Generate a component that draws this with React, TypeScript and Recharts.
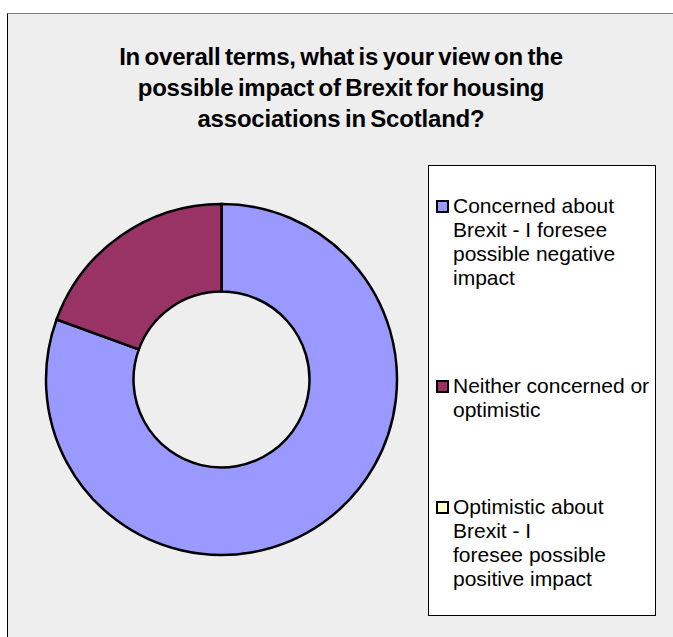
import React from "react";
import { PieChart, Pie, Cell, Legend } from "recharts";

const titleLines = [
  "In overall terms, what is your view on the",
  "possible impact of Brexit for housing",
  "associations in Scotland?",
];
const categories = [
  "Concerned about\nBrexit - I foresee\npossible negative\nimpact",
  "Neither concerned or\noptimistic",
  "Optimistic about\nBrexit - I\nforesee possible\npositive impact",
];
const responses = [29, 7, 0];
const colors = ["#9999ff", "#993366", "#ffffcc"];
// where each legend entry starts, measured from the top of the legend box
const legendTops = [28, 208, 329];

const data = categories.map((name, i) => ({ name, value: responses[i] }));

const font = '"Liberation Sans", Arial, sans-serif';

const LegendBox = () => (
  <div
    style={{
      position: "relative",
      width: 226,
      height: 449,
      background: "#ffffff",
      border: "1px solid #000000",
      fontFamily: font,
      fontSize: 21,
      lineHeight: "24px",
      color: "#000000",
    }}
  >
    {data.map((d, i) => (
      <div
        key={i}
        style={{ position: "absolute", left: 7, top: legendTops[i], display: "flex" }}
      >
        <div
          style={{
            width: 9,
            height: 9,
            marginTop: 6,
            marginRight: 4,
            border: "2px solid #000000",
            background: colors[i],
            flexShrink: 0,
          }}
        />
        <div style={{ whiteSpace: "pre-line" }}>{d.name}</div>
      </div>
    ))}
  </div>
);

const App = () => {
  return (
    <div
      style={{
        position: "absolute",
        left: 0,
        top: 0,
        width: 673,
        height: 637,
        background: "#ffffff",
        overflow: "hidden",
      }}
    >
      <div
        style={{
          position: "absolute",
          left: 7,
          top: 13,
          width: 680,
          height: 640,
          background: "#eeeeee",
          borderTop: "1px solid #808080",
          borderLeft: "1px solid #000000",
        }}
      />
      <div
        style={{
          position: "absolute",
          left: 8,
          top: 41,
          width: 666,
          textAlign: "center",
          fontFamily: font,
          fontWeight: "bold",
          fontSize: 24,
          lineHeight: "31px",
          letterSpacing: -0.2,
          wordSpacing: -2,
          color: "#000000",
        }}
      >
        {titleLines.map((t, i) => (
          <div key={i}>{t}</div>
        ))}
      </div>
      <div style={{ position: "absolute", left: 0, top: 0 }}>
        <PieChart width={673} height={637} margin={{ top: 0, right: 0, bottom: 0, left: 0 }}>
          <Pie
            data={data}
            dataKey="value"
            nameKey="name"
            cx={221.5}
            cy={379.5}
            innerRadius={88}
            outerRadius={175.5}
            startAngle={90}
            endAngle={-270}
            stroke="#000000"
            strokeWidth={2.5}
            isAnimationActive={false}
          >
            {data.map((d, i) => (
              <Cell key={i} fill={colors[i]} />
            ))}
          </Pie>
          <Legend
            content={() => <LegendBox />}
            wrapperStyle={{ position: "absolute", left: 428, top: 165, width: 228 }}
          />
        </PieChart>
      </div>
    </div>
  );
};

export default App;
